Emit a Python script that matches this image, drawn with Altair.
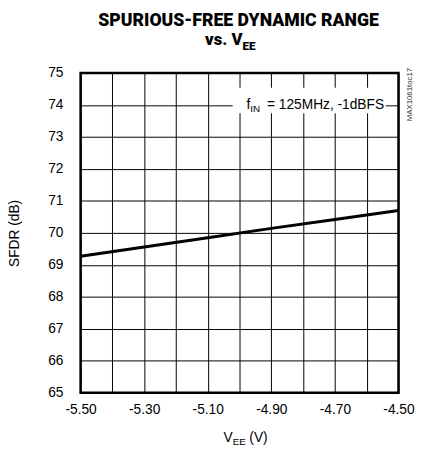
import altair as alt
import pandas as pd

# data
vee = [-5.5, -5.3, -5.1, -4.9, -4.7, -4.5]
sfdr = [69.27, 69.56, 69.85, 70.14, 70.42, 70.70]

x_grid = [-5.5, -5.4, -5.3, -5.2, -5.1, -5.0, -4.9, -4.8, -4.7, -4.6, -4.5]
y_grid = [65, 66, 67, 68, 69, 70, 71, 72, 73, 74, 75]

df = pd.DataFrame({"vee": vee, "sfdr": sfdr})

W, H = 324, 326
FONT = "Liberation Sans"
TFONT = "Roboto"

x_scale = alt.Scale(domain=[-5.5, -4.5], nice=False, zero=False)
y_scale = alt.Scale(domain=[65, 75], nice=False, zero=False)

xlabel_expr = ("abs(round(datum.value*10))%2==1 ? "
               "replace(format(datum.value,'.2f'), '\u2212', '-') : ''")

line = alt.Chart(df).mark_line(color="black", strokeWidth=3).encode(
    x=alt.X("vee:Q", scale=x_scale,
            axis=alt.Axis(values=x_grid, title=None, grid=True, ticks=False,
                          domain=False, labelPadding=10, labelFlush=False,
                          labelOverlap=False, labelExpr=xlabel_expr)),
    y=alt.Y("sfdr:Q", scale=y_scale,
            axis=alt.Axis(values=y_grid, title="SFDR (dB)", grid=True, ticks=False,
                          domain=False, labelPadding=18, format="d", titlePadding=27,
                          labelFlush=False)),
)

# white box behind the annotation
box = alt.Chart(df).mark_rect(color="white").encode(
    x=alt.value(155), x2=alt.value(311), y=alt.value(15), y2=alt.value(41)
).transform_filter("datum.vee == -5.5")

def txt(text, x, y, size, align="left", weight=None, angle=0, baseline="alphabetic",
        color="black", font=FONT):
    kw = dict(text=text, align=align, baseline=baseline, fontSize=size, font=font,
              color=color)
    if weight:
        kw["fontWeight"] = weight
    if angle:
        kw["angle"] = angle
    return alt.Chart(df).mark_text(**kw).encode(
        x=alt.value(x), y=alt.value(y)
    ).transform_filter("datum.vee == -5.5")

texts = [
    txt("SPURIOUS-FREE DYNAMIC RANGE", 161, -48, 18, align="center", weight=900, font=TFONT),
    txt("vs. V", 165, -28, 17, align="right", weight=900, font=TFONT),
    txt("EE", 165, -23, 12, weight=900, font=TFONT),
    txt("f", 169, 37, 14),
    txt("IN", 173, 40, 10),
    txt("= 125MHz, -1dBFS", 190, 37, 14),
    txt("V", 155, 376, 14, align="right"),
    txt("EE", 155, 379, 10),
    txt("(V)", 172, 376, 14),
    txt("MAX1061toc17", 336, 22, 8, align="center", angle=270, baseline="middle", color="#333"),
]

chart = alt.layer(line, box, *texts).properties(
    width=W, height=H,
    autosize=alt.AutoSizeParams(type="none"),
    padding={"left": 74, "top": 62, "right": 25, "bottom": 50},
).configure_view(
    stroke="black", strokeWidth=2.5
).configure_axis(
    gridColor="black", gridOpacity=1, gridWidth=1,
    labelFont=FONT, labelFontSize=14, labelColor="black",
    titleFont=FONT, titleFontSize=14, titleFontWeight="normal", titleColor="black",
)

chart.save("out.html", embed_options={"renderer": "svg", "actions": False})
